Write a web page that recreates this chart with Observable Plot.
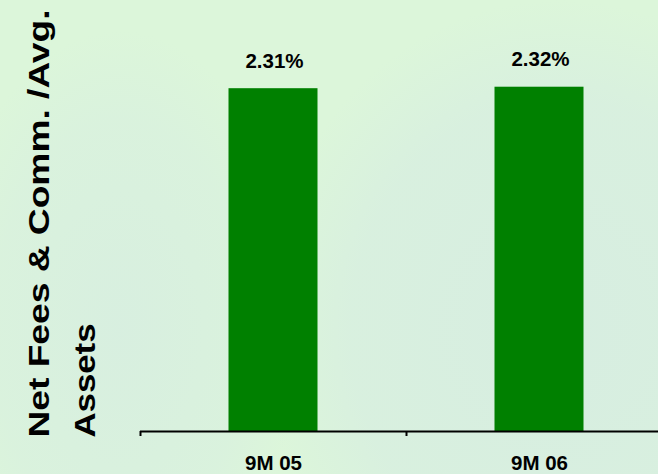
<!DOCTYPE html>
<html><head><meta charset="utf-8">
<script src="https://cdn.jsdelivr.net/npm/d3@7"></script>
<script src="https://cdn.jsdelivr.net/npm/@observablehq/plot@0.6"></script>
<style>
html,body{margin:0;padding:0;background:#dcf6da;overflow:hidden}
#chart{width:658px;height:474px;overflow:hidden;position:relative;
  background:
    radial-gradient(ellipse 300px 330px at 560px 330px, rgba(214,236,226,0.85) 0%, rgba(214,236,226,0.6) 70%, rgba(214,236,226,0) 100%),
    radial-gradient(ellipse 180px 300px at 120px 330px, rgba(214,236,226,0.7) 0%, rgba(214,236,226,0.4) 70%, rgba(214,236,226,0) 100%),
    #dcf6da;}
</style></head><body><div id="chart"></div>
<script>
const categories = ["9M 05", "9M 06"];
const values = [2.31, 2.32];
const valueLabels = ["2.31%", "2.32%"];
const yTitleLines = ["Net Fees & Comm. /Avg.", "Assets"];

const data = categories.map((c, i) => ({category: c, value: values[i], label: valueLabels[i]}));
const font = "'Liberation Sans', Arial, Helvetica, sans-serif";

const chart = Plot.plot({
  width: 658, height: 474,
  marginLeft: 140, marginRight: 0, marginTop: 60, marginBottom: 43,
  style: {background: "transparent", fontFamily: font, color: "#000", overflow: "visible"},
  x: {domain: categories, range: [140, 672], padding: 0, axis: null},
  y: {domain: [0, 2.5], axis: null},
  marks: [
    Plot.barY(data, {x: "category", y: "value", fill: "#008000", insetLeft: 88.5, insetRight: 88.5}),
    Plot.ruleY([0], {stroke: "#000", strokeWidth: 2}),
    Plot.ruleX(categories, {x: d => d, y1: 0, y2: 0, insetBottom: -5, dx: -133, stroke: "#000", strokeWidth: 2}),
    Plot.text(data, {x: "category", y: "value", text: "label", dy: -21, dx: 1, lineAnchor: "bottom",
      fontSize: 20.5, fontWeight: "bold", fill: "#000"}),
    Plot.text(categories, {x: d => d, frameAnchor: "bottom", dy: 24, lineAnchor: "top",
      fontSize: 20.5, fontWeight: "bold", fill: "#000"}),
    Plot.text([yTitleLines[0]], {frameAnchor: "bottom-left", rotate: -90, textAnchor: "start", lineAnchor: "bottom",
      dx: 48 - 140, dy: 6, fontSize: 29, fontWeight: "bold", fill: "#000"}),
    Plot.text([yTitleLines[1]], {frameAnchor: "bottom-left", rotate: -90, textAnchor: "start", lineAnchor: "bottom",
      dx: 94 - 140, dy: 6, fontSize: 29, fontWeight: "bold", fill: "#000"})
  ]
});

const lengths = {[yTitleLines[0]]: 428, [yTitleLines[1]]: 114};
chart.querySelectorAll("text").forEach(t => {
  const s = t.textContent;
  if (lengths[s] !== undefined) {
    t.setAttribute("textLength", lengths[s]);
    t.setAttribute("lengthAdjust", "spacingAndGlyphs");
  }
});

document.getElementById("chart").appendChild(chart);
</script>
</body></html>
